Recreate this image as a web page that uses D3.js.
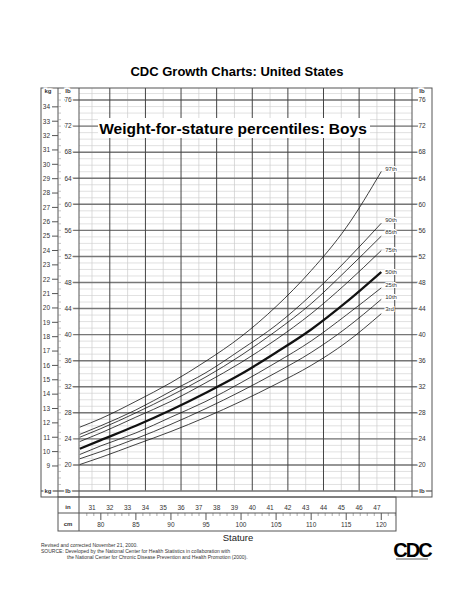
<!DOCTYPE html>
<html><head><meta charset="utf-8">
<script src="https://cdn.jsdelivr.net/npm/d3@7"></script>
<style>body{margin:0;background:#fff}text{font-family:"Liberation Sans",Arial,sans-serif}</style>
</head><body>
<script>
// stature (cm) and weight (kg) per percentile
var stature = [77, 80, 85, 90, 95, 100, 105, 110, 115, 120];
var p3  = [9.1, 9.6, 10.5, 11.4, 12.4, 13.5, 14.7, 16.0, 17.6, 19.6];
var p10 = [9.5, 10.0, 10.9, 11.9, 13.0, 14.2, 15.5, 16.9, 18.6, 20.6];
var p25 = [9.8, 10.4, 11.3, 12.4, 13.5, 14.8, 16.2, 17.7, 19.5, 21.4];
var p50 = [10.2, 10.8, 11.8, 12.9, 14.1, 15.4, 16.9, 18.5, 20.4, 22.5];
var p75 = [10.7, 11.3, 12.4, 13.5, 14.8, 16.2, 17.8, 19.6, 21.7, 24.0];
var p85 = [11.0, 11.6, 12.7, 13.9, 15.2, 16.7, 18.4, 20.3, 22.6, 25.0];
var p90 = [11.2, 11.8, 12.9, 14.2, 15.5, 17.1, 18.8, 20.9, 23.3, 25.9];
var p97 = [11.7, 12.3, 13.5, 14.8, 16.3, 18.0, 20.1, 22.6, 25.6, 29.5];
var seriesNames = ["3rd", "10th", "25th", "50th", "75th", "85th", "90th", "97th"];
var labelLb = [44, 45.8, 47.6, 49.6, 53, 55.8, 57.6, 65.4];
var inchTicks = d3.range(31, 48);
var cmTicks = [80, 85, 90, 95, 100, 105, 110, 115, 120];
var lbTicks = d3.range(20, 77, 4);
var kgTicks = d3.range(9, 35);

var series = [p3, p10, p25, p50, p75, p85, p90, p97];
var W = 474, H = 613;
var svg = d3.select("body").append("svg").attr("width", W).attr("height", H);

var L = 79, R = 412, T = 88, B = 491;
var x = d3.scaleLinear().domain([30.27, 48.97]).range([L, R]); // inches
var xcm = function(c) { return x(c / 2.54); };
var y = d3.scaleLinear().domain([16, 77.85]).range([B, T]); // lb
var ykg = function(k) { return y(k * 2.20462); };

svg.append("text").attr("x", 237).attr("y", 76).attr("text-anchor", "middle")
  .attr("font-size", 13).attr("font-weight", "bold").text("CDC Growth Charts: United States");

// grid
var g = svg.append("g");
d3.range(16, 78, 1).forEach(function(v) {
  g.append("line").attr("x1", L).attr("x2", R).attr("y1", y(v)).attr("y2", y(v))
    .attr("stroke", "#ccc").attr("stroke-width", 0.6);
});
d3.range(31, 49, 2).forEach(function(v) {
  g.append("line").attr("x1", x(v)).attr("x2", x(v)).attr("y1", T).attr("y2", B)
    .attr("stroke", "#ccc").attr("stroke-width", 0.7);
});
lbTicks.forEach(function(v) {
  g.append("line").attr("x1", 64).attr("x2", R + 6).attr("y1", y(v)).attr("y2", y(v))
    .attr("stroke", "#777").attr("stroke-width", 1.4);
});
d3.range(32, 49, 2).forEach(function(v) {
  g.append("line").attr("x1", x(v)).attr("x2", x(v)).attr("y1", T).attr("y2", B)
    .attr("stroke", "#444").attr("stroke-width", 1);
});
g.append("line").attr("x1", 41).attr("x2", 432).attr("y1", B).attr("y2", B).attr("stroke", "#777").attr("stroke-width", 1.4);

// frame
svg.append("rect").attr("x", 41).attr("y", T).attr("width", 432 - 41).attr("height", B - T + 6)
  .attr("fill", "none").attr("stroke", "#555");
[58, L, R].forEach(function(v) {
  svg.append("line").attr("x1", v).attr("x2", v).attr("y1", T).attr("y2", B + 6).attr("stroke", "#555");
});

// left kg axis
kgTicks.forEach(function(k) {
  svg.append("line").attr("x1", 52).attr("x2", 58).attr("y1", ykg(k)).attr("y2", ykg(k)).attr("stroke", "#555");
  svg.append("text").attr("x", 50).attr("y", ykg(k) + 2.3).attr("text-anchor", "end").attr("font-size", 6.5).attr("fill", "#333").text(k);
});
d3.range(16, 78, 1).forEach(function(v) {
  svg.append("line").attr("x1", 58).attr("x2", 61).attr("y1", y(v)).attr("y2", y(v)).attr("stroke", "#888").attr("stroke-width", 0.5);
});
// lb labels
lbTicks.forEach(function(v) {
  svg.append("text").attr("x", 68).attr("y", y(v) + 2.3).attr("text-anchor", "middle").attr("font-size", 6.5).attr("fill", "#333")
    .attr("stroke", "#fff").attr("stroke-width", 3).attr("paint-order", "stroke").text(v);
  svg.append("text").attr("x", 422).attr("y", y(v) + 2.3).attr("text-anchor", "middle").attr("font-size", 6.5).attr("fill", "#333")
    .attr("stroke", "#fff").attr("stroke-width", 3).attr("paint-order", "stroke").text(v);
});
[[48, 93, "kg"], [68, 93, "lb"], [48, 493, "kg"], [68, 493, "lb"], [422, 93, "lb"], [422, 493, "lb"]].forEach(function(d) {
  svg.append("text").attr("x", d[0]).attr("y", d[1]).attr("text-anchor", "middle").attr("font-size", 6)
    .attr("font-weight", "bold").attr("fill", "#333").attr("stroke", "#fff").attr("stroke-width", 3).attr("paint-order", "stroke").text(d[2]);
});

// inner title
svg.append("rect").attr("x", 98).attr("y", 118).attr("width", 272).attr("height", 20).attr("fill", "#fff");
svg.append("text").attr("x", 233).attr("y", 134).attr("text-anchor", "middle").attr("font-size", 15.5)
  .attr("font-weight", "bold").text("Weight-for-stature percentiles: Boys");

// curves
var line = d3.line().x(function(d, i) { return xcm(stature[i]); }).y(function(d) { return ykg(d); }).curve(d3.curveMonotoneX);
series.forEach(function(s, i) {
  svg.append("path").attr("d", line(s)).attr("fill", "none").attr("stroke", "#111")
    .attr("stroke-width", seriesNames[i] == "50th" ? 2.2 : 0.8);
  svg.append("text").attr("x", xcm(120) + 4).attr("y", y(labelLb[i]) + 2).attr("font-size", 6).attr("fill", "#333")
    .attr("stroke", "#fff").attr("stroke-width", 2).attr("paint-order", "stroke").text(seriesNames[i]);
});

// bottom axis box
var bx0 = 58, bx1 = 396, by0 = B + 6, by1 = 531, bmid = 513;
svg.append("rect").attr("x", bx0).attr("y", by0).attr("width", bx1 - bx0).attr("height", by1 - by0).attr("fill", "none").attr("stroke", "#555");
svg.append("line").attr("x1", bx0).attr("x2", bx1).attr("y1", bmid).attr("y2", bmid).attr("stroke", "#555");
svg.append("line").attr("x1", L).attr("x2", L).attr("y1", by0).attr("y2", by1).attr("stroke", "#555");
inchTicks.forEach(function(v) {
  svg.append("text").attr("x", x(v)).attr("y", 510).attr("text-anchor", "middle").attr("font-size", 6.5).attr("fill", "#333").text(v);
});
d3.range(78, 123).forEach(function(c) {
  var big = c % 5 == 0;
  svg.append("line").attr("x1", xcm(c)).attr("x2", xcm(c)).attr("y1", bmid).attr("y2", bmid + (big ? 7 : 3))
    .attr("stroke", "#555").attr("stroke-width", big ? 1 : 0.5);
});
cmTicks.forEach(function(c) {
  svg.append("text").attr("x", xcm(c)).attr("y", 527).attr("text-anchor", "middle").attr("font-size", 6.5).attr("fill", "#333").text(c);
});
svg.append("text").attr("x", 68).attr("y", 509).attr("text-anchor", "middle").attr("font-size", 6).attr("font-weight", "bold").attr("fill", "#333").text("in");
svg.append("text").attr("x", 68).attr("y", 526).attr("text-anchor", "middle").attr("font-size", 6).attr("font-weight", "bold").attr("fill", "#333").text("cm");
svg.append("text").attr("x", 238).attr("y", 541).attr("text-anchor", "middle").attr("font-size", 9.5).attr("fill", "#222").text("Stature");

// footer
var foot = [[41, 547, "Revised and corrected November 21, 2000."],
  [41, 553, "SOURCE: Developed by the National Center for Health Statistics in collaboration with"],
  [67, 559, "the National Center for Chronic Disease Prevention and Health Promotion (2000)."]];
foot.forEach(function(d) {
  svg.append("text").attr("x", d[0]).attr("y", d[1]).attr("font-size", 5).attr("fill", "#333").text(d[2]);
});
svg.append("text").attr("x", 412).attr("y", 557).attr("text-anchor", "middle").attr("font-size", 20)
  .attr("font-family", "Liberation Serif").attr("font-weight", "bold").attr("letter-spacing", -2).text("CDC");
svg.append("line").attr("x1", 396).attr("x2", 428).attr("y1", 559).attr("y2", 559).attr("stroke", "#777").attr("stroke-width", 1.2);
</script>
</body></html>
